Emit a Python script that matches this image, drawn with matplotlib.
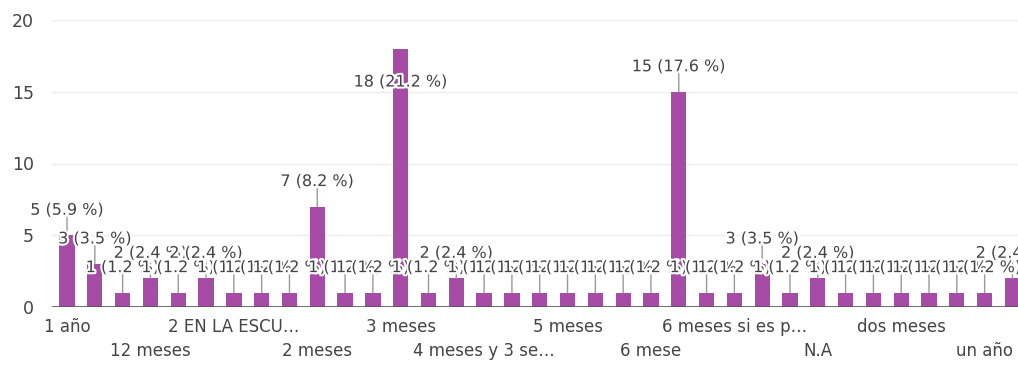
import matplotlib
matplotlib.use('Agg')
import matplotlib.pyplot as plt
import matplotlib.patheffects as pe
from matplotlib.transforms import offset_copy

# Responses per answer (sorted as the form lists them)
counts = [5, 3, 1, 2, 1, 2, 1, 1, 1, 7, 1, 1, 18, 1, 2, 1, 1, 1, 1, 1, 1, 1,
          15, 1, 1, 3, 1, 2, 1, 1, 1, 1, 1, 1, 2]

# Axis labels, shown every third answer on two alternating rows
row1_labels = ['1 año', '2 EN LA ESCU…', '3 meses', '5 meses',
               '6 meses si es p…', 'dos meses']
row2_labels = ['12 meses', '2 meses', '4 meses y 3 se…', '6 mese',
               'N.A', 'un año']

y_ticks = [0, 5, 10, 15, 20]

total = sum(counts)
bar_color = '#a64ca6'
text_color = '#444444'

fig = plt.figure(figsize=(10.18, 3.65), dpi=100)
ax = fig.add_axes([52 / 1018, 58 / 365, 1 - 52 / 1018, 287 / 365])

x = list(range(len(counts)))
ax.bar(x, counts, width=0.55, color=bar_color, zorder=2)

ax.set_xlim(-0.54, 34.2)
ax.set_ylim(0, 20)
ax.set_yticks(y_ticks)
ax.tick_params(axis='y', length=0, pad=13, labelsize=12.5, labelcolor='#444444')
ax.yaxis.grid(True, color='#ececec', linewidth=1, zorder=0)
ax.axhline(0, color='#555555', linewidth=1.2, zorder=3)

for side in ['top', 'right', 'left', 'bottom']:
    ax.spines[side].set_visible(False)

# two rows of category labels
ax.set_xticks(x[0::6])
ax.set_xticklabels(row1_labels)
ax.set_xticks(x[3::6], minor=True)
ax.set_xticklabels(row2_labels, minor=True)
ax.tick_params(axis='x', which='major', length=0, pad=8, labelsize=12,
               labelcolor='#444444')
ax.tick_params(axis='x', which='minor', length=0, pad=25, labelsize=12,
               labelcolor='#444444')

# value annotations with stems; the tallest one goes inside its bar
halo = [pe.withStroke(linewidth=3, foreground='white')]
for i, v in enumerate(counts):
    label = '%d (%.1f %%)' % (v, v / total * 100)
    if v >= 18:
        dy = -24
    else:
        dy = 18
        ax.annotate('', xy=(i, v), xytext=(0, 13), textcoords='offset points',
                    arrowprops=dict(arrowstyle='-', color='#999999', lw=1,
                                    shrinkA=0, shrinkB=0), zorder=4)
    tr = offset_copy(ax.transData, fig=fig, x=0, y=dy, units='points')
    ax.text(i, v, label, transform=tr, ha='center', va='center',
            fontsize=11.5, color=text_color, path_effects=halo,
            zorder=5, clip_on=False)

fig.savefig('out.png', dpi=100)
